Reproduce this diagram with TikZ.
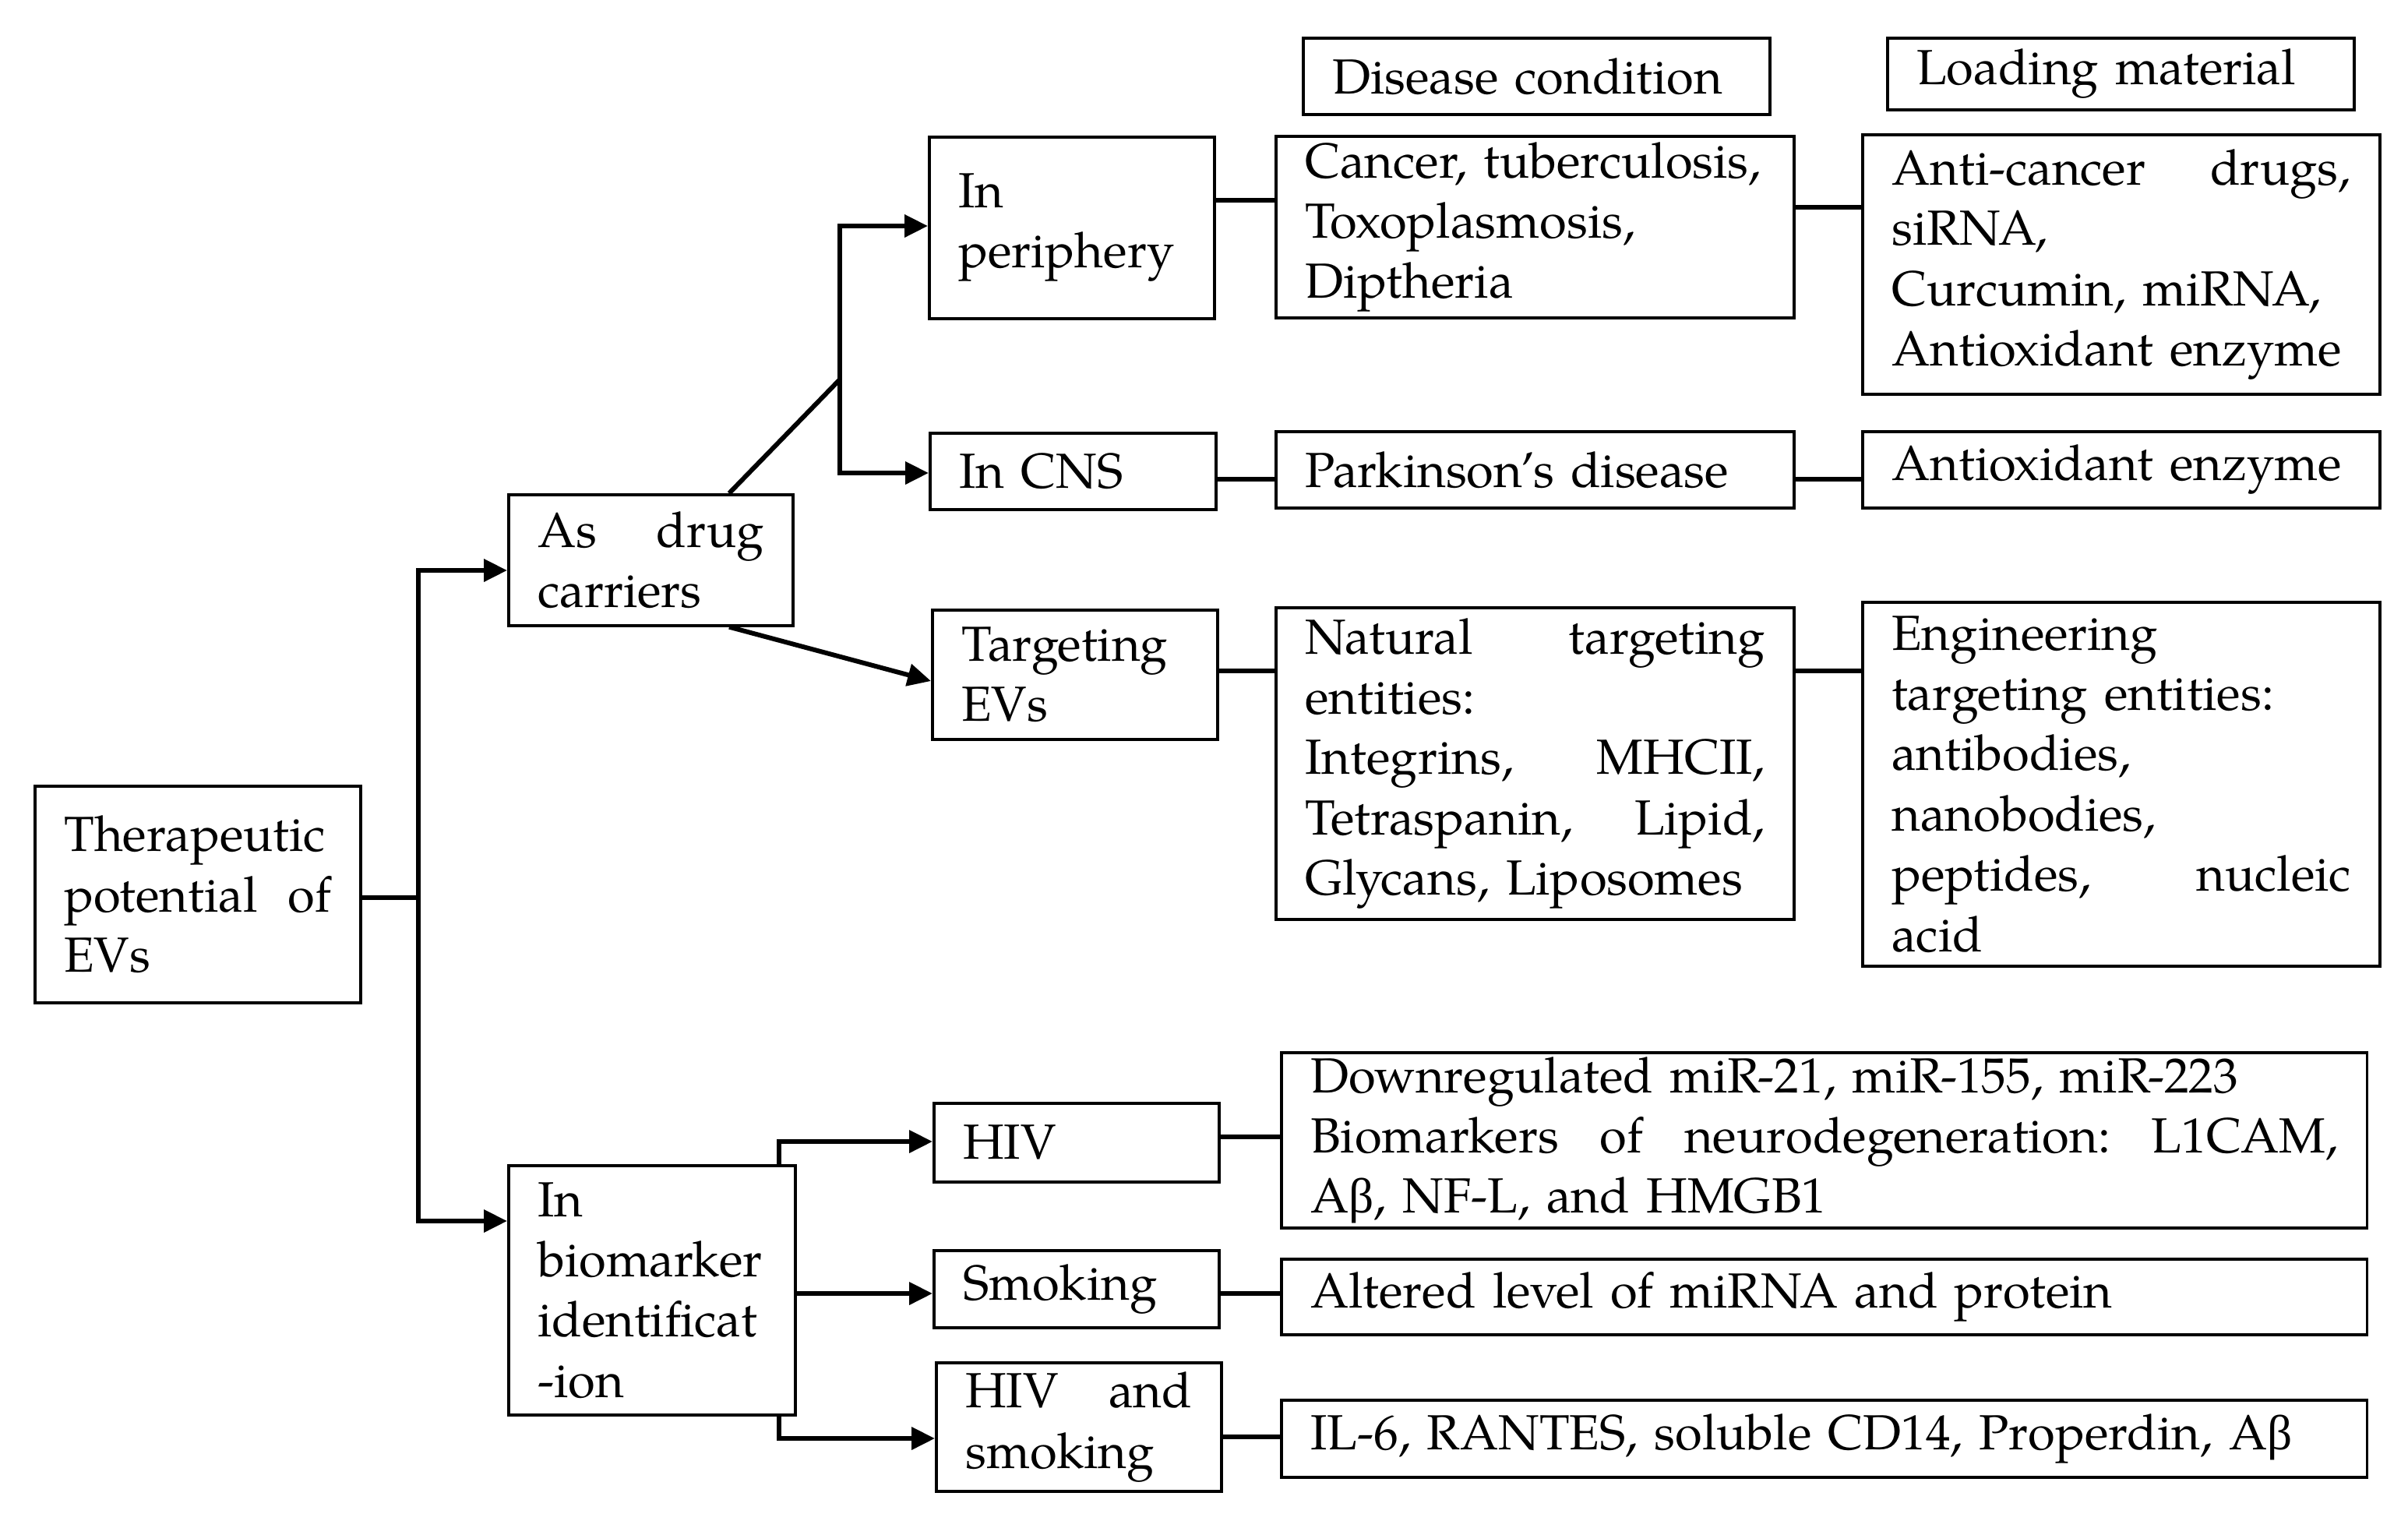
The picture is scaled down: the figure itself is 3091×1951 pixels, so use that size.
\documentclass[tikz,border=0pt]{standalone}
\usepackage{fontspec}
\setmainfont{texgyrepagella-regular.otf}
\newfontfamily\grk{Liberation Serif}
\usetikzlibrary{arrows.meta}
\tikzset{
  box/.style={draw, line width=1pt, rectangle, inner ysep=0pt, inner xsep=0.35cm,
    anchor=north west, align=left, font=\fontsize{18}{22}\selectfont},
  conn/.style={line width=1.7pt},
  arr/.style={conn, -{Triangle[length=8.5pt,width=8pt]}}
}
\begin{document}
\begin{tikzpicture}[x=0.01cm,y=-0.01cm]
\useasboundingbox (0,0) rectangle (3091,1951);
% left column
\node[box, minimum width=4.18cm, minimum height=2.78cm, text width=3.43cm] (ther) at (43,1007) {Therapeutic\\potential\hfill of\\EVs};
\node[box, minimum width=3.65cm, minimum height=1.68cm, text width=2.90cm] (drug) at (651,633) {As\hfill drug\\carriers};
\node[box, minimum width=3.68cm, minimum height=3.20cm, text width=2.93cm] (bio) at (651,1494) {In\\biomarker\\identificat\\-ion};
% second column
\node[box, minimum width=3.66cm, minimum height=2.33cm, text width=2.91cm] (peri) at (1191,174) {In\\periphery};
\node[box, minimum width=3.67cm, minimum height=0.98cm, text width=2.92cm] (cns) at (1192,554) {In CNS};
\node[box, minimum width=3.66cm, minimum height=1.66cm, text width=2.91cm] (targ) at (1195,781) {Targeting\\EVs};
\node[box, minimum width=3.66cm, minimum height=1.01cm, text width=2.91cm] (hiv) at (1197,1414) {HIV};
\node[box, minimum width=3.66cm, minimum height=0.99cm, text width=2.91cm] (smk) at (1197,1603) {Smoking};
\node[box, minimum width=3.66cm, minimum height=1.65cm, text width=2.91cm] (hs) at (1200,1747) {HIV\hfill and\\smoking};
% headers
\node[box, minimum width=5.99cm, minimum height=0.98cm, text width=5.24cm] (dis) at (1671,47) {Disease condition};
\node[box, minimum width=5.99cm, minimum height=0.92cm, text width=5.24cm] (load) at (2421,47) {Loading material};
% third column
\node[box, minimum width=6.65cm, minimum height=2.33cm, text width=5.90cm] (canc) at (1636,173) {Cancer, tuberculosis,\\Toxoplasmosis,\\Diptheria};
\node[box, minimum width=6.65cm, minimum height=0.98cm, text width=5.90cm] (park) at (1636,552) {Parkinson’s disease};
\node[box, minimum width=6.65cm, minimum height=4.00cm, text width=5.90cm] (nat) at (1636,778) {Natural\hfill targeting\\entities:\\Integrins,\hfill MHCII,\\Tetraspanin,\hfill Lipid,\\Glycans, Liposomes};
% fourth column
\node[box, minimum width=6.64cm, minimum height=3.33cm, text width=5.89cm] (anti) at (2389,171) {Anti-cancer\hfill drugs,\\siRNA,\\Curcumin, miRNA,\\Antioxidant enzyme};
\node[box, minimum width=6.64cm, minimum height=0.98cm, text width=5.89cm] (aox) at (2389,552) {Antioxidant enzyme};
\node[box, minimum width=6.64cm, minimum height=4.67cm, text width=5.89cm] (eng) at (2389,771) {Engineering\\targeting entities:\\antibodies,\\nanobodies,\\peptides,\hfill nucleic\\acid};
% wide boxes
\node[box, minimum width=13.93cm, minimum height=2.25cm, text width=13.18cm] (down) at (1643,1349) {Downregulated miR-21, miR-155, miR-223\\Biomarkers\hfill of\hfill neurodegeneration:\hfill L1CAM,\\A{\grk β}, NF-L, and HMGB1};
\node[box, minimum width=13.93cm, minimum height=0.97cm, text width=13.18cm] (alt) at (1643,1614) {Altered level of miRNA and protein};
\node[box, minimum width=13.93cm, minimum height=0.99cm, text width=13.18cm] (il) at (1643,1795) {IL-6, RANTES, soluble CD14, Properdin, A{\grk β}};
% connectors from root
\coordinate (j1) at (537,1152);
\draw[conn] (ther.east |- j1) -- (j1);
\draw[arr] (j1) |- (drug.west |- 0,732);
\draw[arr] (j1) |- (bio.west |- 0,1567);
% drug carriers
\coordinate (j2) at (1078,487);
\draw[conn] (936,0 |- drug.north) -- (j2);
\draw[arr] (j2) |- (peri.west |- 0,290);
\draw[arr] (j2) |- (cns.west |- 0,607);
\draw[arr] (936,0 |- drug.south) -- (targ.west |- 0,874);
% biomarker
\draw[arr] (1000,0 |- bio.north) |- (hiv.west |- 0,1465);
\draw[arr] (bio.east |- 0,1660) -- (smk.west |- 0,1660);
\draw[arr] (1000,0 |- bio.south) |- (hs.west |- 0,1846);
% horizontal links
\draw[conn] (peri.east |- 0,257) -- (canc.west |- 0,257);
\draw[conn] (canc.east |- 0,266) -- (anti.west |- 0,266);
\draw[conn] (cns.east |- 0,615) -- (park.west |- 0,615);
\draw[conn] (park.east |- 0,615) -- (aox.west |- 0,615);
\draw[conn] (targ.east |- 0,861) -- (nat.west |- 0,861);
\draw[conn] (nat.east |- 0,861) -- (eng.west |- 0,861);
\draw[conn] (hiv.east |- 0,1459) -- (down.west |- 0,1459);
\draw[conn] (smk.east |- 0,1660) -- (alt.west |- 0,1660);
\draw[conn] (hs.east |- 0,1844) -- (il.west |- 0,1844);
\end{tikzpicture}
\end{document}
